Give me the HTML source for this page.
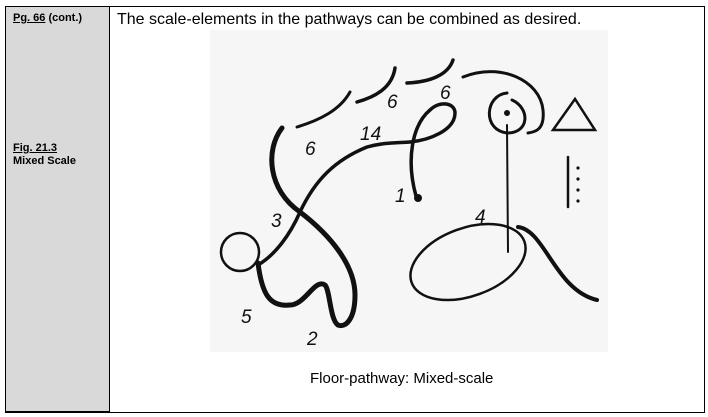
<!DOCTYPE html>
<html><head><style>
body{margin:0;width:708px;height:417px;background:#fff;font-family:"Liberation Sans",Arial,sans-serif;position:relative;overflow:hidden}
.t{position:absolute;left:5px;top:6px;width:698px;height:405px;border:1px solid #000}
.l{position:absolute;left:5px;top:6px;width:105px;height:406px;background:#d9d9d9;border:1px solid #000;box-sizing:border-box}
.l div{position:absolute;left:7px;font-size:11px;font-weight:bold;line-height:13px}
u{text-decoration:underline}
.h{position:absolute;left:117px;top:11px;font-size:16px}
.c{position:absolute;left:310px;top:370px;font-size:15px}
</style></head><body>
<div class="t"></div>
<div class="l"><div style="top:5px"><u>Pg. 66</u> (cont.)</div><div style="top:135px"><u>Fig. 21.3</u><br>Mixed Scale</div></div>
<div class="h">The scale-elements in the pathways can be combined as desired.</div>
<svg style="position:absolute;left:0;top:0" width="708" height="417">
<rect x="210" y="30" width="398" height="322" fill="#f6f6f6"/>
<g fill="none" stroke="#111" stroke-linecap="round">
<path d="M282,128 C265,150 268,190 300,212 C330,235 355,265 355,295 C355,320 345,328 338,325" stroke-width="5"/>
<path d="M338,325 C330,320 330,290 325,285 C315,278 305,305 290,305 C270,307 262,295 258,263" stroke-width="5"/>
<circle cx="240" cy="252" r="19" stroke-width="2.5"/>
<path d="M258,265 C275,255 290,235 300,212 C315,180 335,160 367,147 C385,142 400,143 410,142 C430,140 455,130 455,113 C455,103 440,100 430,110 C412,125 406,160 416,196" stroke-width="3.5"/>
<circle cx="418" cy="198" r="4" fill="#111" stroke="none"/>
<path d="M297,127 C320,120 340,110 350,92" stroke-width="3"/>
<path d="M357,102 C375,97 392,88 395,68" stroke-width="3.5"/>
<path d="M407,83 C430,82 448,75 453,60" stroke-width="3.5"/>
<path d="M463,77 C500,62 540,80 543,110 C545,130 535,132 528,133" stroke-width="3"/>
<path d="M507,93 C485,95 482,130 507,133 C530,133 530,108 512,100" stroke-width="3"/>
<circle cx="507" cy="113" r="3" fill="#111" stroke="none"/>
<line x1="507" y1="125" x2="508" y2="252" stroke-width="2"/>
<ellipse cx="468" cy="262" rx="60" ry="34" transform="rotate(-20 468 262)" stroke-width="2.5"/>
<path d="M518,227 C545,230 555,290 597,300" stroke-width="4"/>
<path d="M553,130 L595,130 L575,99 Z" stroke-width="2.5"/>
<line x1="568" y1="157" x2="568" y2="207" stroke-width="2.5"/>
</g>
<g fill="#111"><circle cx="578" cy="168" r="1.6"/><circle cx="578" cy="179" r="1.6"/><circle cx="578" cy="190" r="1.6"/><circle cx="578" cy="201" r="1.6"/></g>
<g font-family="Liberation Sans,sans-serif" font-size="19" font-style="italic" fill="#111">
<text x="305" y="155">6</text><text x="360" y="140">14</text><text x="387" y="108">6</text><text x="440" y="99">6</text>
<text x="395" y="202">1</text><text x="271" y="227">3</text><text x="475" y="223">4</text><text x="241" y="323">5</text><text x="307" y="345">2</text>
</g>
</svg>
<div class="c">Floor-pathway: Mixed-scale</div>
</body></html>
